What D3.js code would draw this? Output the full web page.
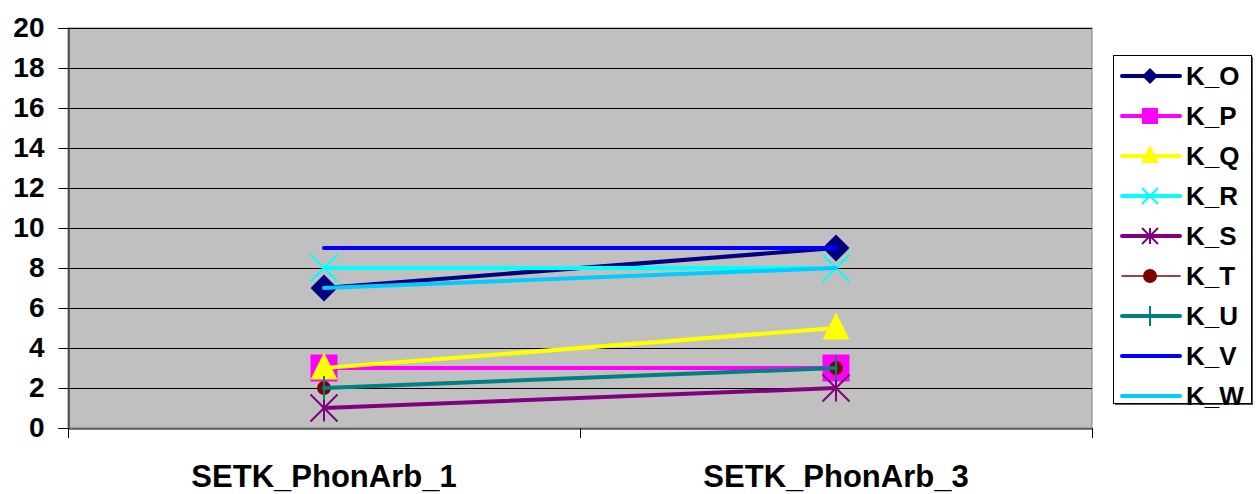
<!DOCTYPE html>
<html>
<head>
<meta charset="utf-8">
<script src="https://cdn.jsdelivr.net/npm/d3@7"></script>
<style>
  html, body { margin: 0; padding: 0; background: #ffffff; }
  svg { display: block; font-family: Arial, "Liberation Sans", sans-serif; }
</style>
</head>
<body>
<svg id="chart" width="1260" height="494"></svg>
<script>
// Categories and series values
const categories = ["SETK_PhonArb_1", "SETK_PhonArb_3"];
const seriesNames = ["K_O", "K_P", "K_Q", "K_R", "K_S", "K_T", "K_U", "K_V", "K_W"];
const seriesValues = [
  [7, 9],
  [3, 3],
  [3, 5],
  [8, 8],
  [1, 2],
  [2, 3],
  [2, 3],
  [9, 9],
  [7, 8]
];
const yTicks = [0, 2, 4, 6, 8, 10, 12, 14, 16, 18, 20];

// Styling per series
const colors = ["#000080", "#ff00ff", "#ffff00", "#00ffff", "#800080", "#800000", "#008080", "#0000ff", "#00ccff"];
const markers = ["diamond", "square", "triangle", "x", "star", "circle", "plus", "none", "none"];
const widths = [4, 4, 4, 4, 4, 1.5, 4, 4, 4];

const svg = d3.select("#chart");
const plot = { left: 68, right: 1092, top: 28, bottom: 428 };

const x = d3.scaleBand().domain(categories).range([plot.left, plot.right]);
const y = d3.scaleLinear().domain([0, 20]).range([plot.bottom, plot.top]);

// Plot background
svg.append("rect")
  .attr("x", plot.left).attr("y", plot.top)
  .attr("width", plot.right - plot.left).attr("height", plot.bottom - plot.top)
  .attr("fill", "#c0c0c0").attr("stroke", "#808080").attr("stroke-width", 1);

// Horizontal gridlines
svg.append("g").selectAll("line").data(yTicks.filter(d => d > 0)).join("line")
  .attr("x1", plot.left).attr("x2", plot.right)
  .attr("y1", d => Math.round(y(d)) + 0.5).attr("y2", d => Math.round(y(d)) + 0.5)
  .attr("stroke", "#000").attr("stroke-width", 1);

// Y axis
const yAxis = svg.append("g").attr("transform", `translate(${plot.left + 0.5},0)`)
  .call(d3.axisLeft(y).tickValues(yTicks).tickSize(10).tickPadding(14));
yAxis.select(".domain").attr("stroke", "#000");
yAxis.selectAll(".tick line").attr("stroke", "#000");
yAxis.selectAll(".tick text")
  .attr("font-size", 28).attr("font-weight", "bold").attr("fill", "#000")
  .attr("font-family", "Arial, 'Liberation Sans', sans-serif");

// X axis
const xAxis = svg.append("g").attr("transform", `translate(0,${plot.bottom + 0.5})`)
  .call(d3.axisBottom(x).tickSize(0).tickPadding(0));
xAxis.select(".domain").attr("stroke", "#000");
xAxis.selectAll(".tick text")
  .attr("y", 58).attr("dy", null)
  .attr("font-size", 31).attr("font-weight", "bold").attr("fill", "#000")
  .attr("font-family", "Arial, 'Liberation Sans', sans-serif");
// Category boundary ticks
const bounds = [plot.left, plot.left + x.bandwidth(), plot.right];
svg.append("g").selectAll("line").data(bounds).join("line")
  .attr("x1", d => Math.round(d) + 0.5).attr("x2", d => Math.round(d) + 0.5)
  .attr("y1", plot.bottom).attr("y2", plot.bottom + 10)
  .attr("stroke", "#000");

const cx = c => x(c) + x.bandwidth() / 2;

function drawMarker(g, type, color, px, py, s) {
  const h = s / 2;
  if (type === "diamond") {
    g.append("path").attr("d", `M${px},${py - h}L${px + h},${py}L${px},${py + h}L${px - h},${py}Z`).attr("fill", color);
  } else if (type === "square") {
    g.append("rect").attr("x", px - h).attr("y", py - h).attr("width", s).attr("height", s).attr("fill", color);
  } else if (type === "triangle") {
    g.append("path").attr("d", `M${px},${py - h - 2}L${px + h},${py + h - 2}L${px - h},${py + h - 2}Z`).attr("fill", color);
  } else if (type === "x") {
    g.append("path").attr("d", `M${px - h},${py - h}L${px + h},${py + h}M${px + h},${py - h}L${px - h},${py + h}`)
      .attr("stroke", color).attr("stroke-width", 2);
  } else if (type === "star") {
    g.append("path").attr("d", `M${px - h},${py - h}L${px + h},${py + h}M${px + h},${py - h}L${px - h},${py + h}M${px},${py - h}L${px},${py + h}`)
      .attr("stroke", color).attr("stroke-width", 2);
  } else if (type === "circle") {
    g.append("circle").attr("cx", px).attr("cy", py).attr("r", 7).attr("fill", color);
  } else if (type === "plus") {
    g.append("path").attr("d", `M${px},${py - 12}L${px},${py + 12}`)
      .attr("stroke", color).attr("stroke-width", 2);
  }
}

// Series lines and markers
const line = d3.line().x((d, i) => cx(categories[i])).y(d => y(d));
seriesNames.forEach((name, si) => {
  const g = svg.append("g");
  g.append("path").datum(seriesValues[si]).attr("d", line)
    .attr("fill", "none").attr("stroke", colors[si]).attr("stroke-width", widths[si])
    .attr("stroke-linecap", "round");
  seriesValues[si].forEach((v, i) => {
    drawMarker(g, markers[si], colors[si], cx(categories[i]), y(v), 27);
  });
});

// Legend
const leg = { x: 1113, y: 55, w: 138, h: 348 };
svg.append("rect").attr("x", leg.x + 2).attr("y", leg.y + 2).attr("width", leg.w).attr("height", leg.h).attr("fill", "#555");
svg.append("rect").attr("x", leg.x + 0.5).attr("y", leg.y + 0.5).attr("width", leg.w).attr("height", leg.h)
  .attr("fill", "#fff").attr("stroke", "#000").attr("stroke-width", 1);
seriesNames.forEach((name, si) => {
  const ly = 76 + si * 40;
  const g = svg.append("g");
  g.append("line").attr("x1", 1122).attr("x2", 1180).attr("y1", ly).attr("y2", ly)
    .attr("stroke", colors[si]).attr("stroke-width", widths[si]).attr("stroke-linecap", "round");
  if (markers[si] === "circle") {
    g.append("circle").attr("cx", 1150).attr("cy", ly).attr("r", 7).attr("fill", colors[si]);
  } else if (markers[si] === "plus") {
    g.append("path").attr("d", `M1150,${ly - 10}L1150,${ly + 10}`).attr("stroke", colors[si]).attr("stroke-width", 2);
  } else {
    drawMarker(g, markers[si], colors[si], 1150, ly, markers[si] === "triangle" ? 18 : 16);
  }
  g.append("text").attr("x", 1186).attr("y", ly).attr("dy", "0.36em")
    .attr("font-size", 26).attr("font-weight", "bold").attr("fill", "#000").text(name);
});
</script>
</body>
</html>
